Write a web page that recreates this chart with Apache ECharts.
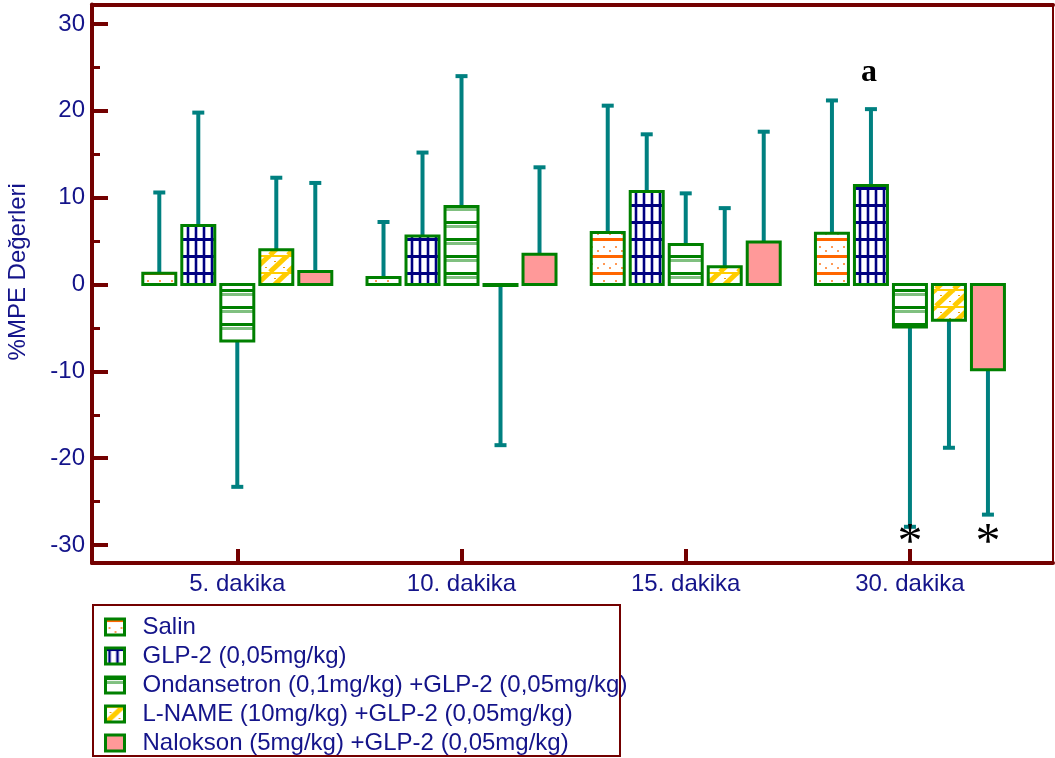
<!DOCTYPE html>
<html>
<head>
<meta charset="utf-8">
<script src="https://cdn.jsdelivr.net/npm/echarts@6/dist/echarts.min.js"></script>
<style>
html,body{margin:0;padding:0;background:#fff;}
#chart{width:1055px;height:758px;}
</style>
</head>
<body>
<div id="chart"></div>
<script>
// ---------- data ----------
const categories = ['5. dakika', '10. dakika', '15. dakika', '30. dakika'];
const seriesNames = [
  'Salin',
  'GLP-2 (0,05mg/kg)',
  'Ondansetron (0,1mg/kg) +GLP-2 (0,05mg/kg)',
  'L-NAME (10mg/kg) +GLP-2 (0,05mg/kg)',
  'Nalokson (5mg/kg) +GLP-2 (0,05mg/kg)'
];
// bar means
const salinMean  = [1.3, 0.8, 6.0, 5.9];
const glpMean    = [6.8, 5.6, 10.7, 11.4];
const ondMean    = [-6.5, 9.0, 4.6, -4.9];
const lnameMean  = [4.0, -0.1, 2.05, -4.1];
const nalMean    = [1.5, 3.5, 4.9, -9.8];
// error bar end values (mean ± SD)
const salinErr   = [10.6, 7.2, 20.6, 21.2];
const glpErr     = [19.8, 15.2, 17.3, 20.2];
const ondErr     = [-23.3, 24.0, 10.5, -27.9];
const lnameErr   = [12.3, -18.5, 8.8, -18.8];
const nalErr     = [11.7, 13.5, 17.6, -26.5];
// significance marks
const salinMarks = ['', '', '', ''];
const glpMarks   = ['', '', '', 'a'];
const ondMarks   = ['', '', '', '*'];
const lnameMarks = ['', '', '', ''];
const nalMarks   = ['', '', '', '*'];
// axis ticks
const yTickLabels = [-30, -20, -10, 0, 10, 20, 30];
const yMinorTicks = [-25, -15, -5, 5, 15, 25];

const means = [salinMean, glpMean, ondMean, lnameMean, nalMean];
const errs = [salinErr, glpErr, ondErr, lnameErr, nalErr];
const marks = [salinMarks, glpMarks, ondMarks, lnameMarks, nalMarks];

// ---------- styles ----------
const MAROON = '#730000';
const NAVY = '#14148a';
const GREEN = '#008000';
const TEAL = '#008080';
const FONT = '"Liberation Sans", Arial, sans-serif';

function makeCanvas(w, h, draw) {
  const c = document.createElement('canvas');
  c.width = w; c.height = h;
  const ctx = c.getContext('2d');
  ctx.fillStyle = '#ffffff';
  ctx.fillRect(0, 0, w, h);
  draw(ctx, w, h);
  return c;
}
const salinPat = makeCanvas(12, 17, (ctx) => {
  ctx.fillStyle = '#ff6600';
  ctx.fillRect(0, 0, 12, 3);
  ctx.fillStyle = '#ff9955';
  ctx.fillRect(3, 8, 2, 2);
  ctx.fillRect(9, 12, 2, 2);
});
const glpPat = makeCanvas(8, 17, (ctx) => {
  ctx.fillStyle = '#b4b4e0';
  ctx.fillRect(2, 0, 4, 17);
  ctx.fillStyle = '#000080';
  ctx.fillRect(3, 0, 2, 17);
  ctx.fillRect(0, 0, 8, 3);
});
const ondPat = makeCanvas(6, 17, (ctx) => {
  ctx.fillStyle = '#008000';
  ctx.fillRect(0, 0, 6, 3);
  ctx.fillStyle = '#80c080';
  ctx.fillRect(0, 4, 6, 3);
});
const lnamePat = makeCanvas(18, 17, (ctx) => {
  ctx.strokeStyle = '#ffcc00';
  ctx.lineWidth = 5;
  for (let k = -1; k <= 1; k++) {
    ctx.beginPath();
    ctx.moveTo(k * 18, 17);
    ctx.lineTo(k * 18 + 18, 0);
    ctx.stroke();
  }
  ctx.fillStyle = '#ffcc00';
  ctx.fillRect(0, 0, 18, 2);
  ctx.fillStyle = '#f0a000';
  ctx.fillRect(4, 6, 2, 1);
  ctx.fillRect(13, 12, 2, 1);
});
const fills = [
  { image: salinPat, repeat: 'repeat' },
  { image: glpPat, repeat: 'repeat' },
  { image: ondPat, repeat: 'repeat' },
  { image: lnamePat, repeat: 'repeat' },
  '#ff9999'
];

const X_MIN = 0.352, X_MAX = 4.638;
const Y_MIN = -32.07, Y_MAX = 32.25;
const BAR_STEP = 39;   // px between bar centers within a group
const BAR_W = 33;      // px inner width (border adds 3)

function makeSeries(si) {
  const data = categories.map((c, i) => [i + 1, means[si][i], errs[si][i]]);
  return {
    type: 'custom',
    name: seriesNames[si],
    xAxisIndex: 0,
    yAxisIndex: 0,
    itemStyle: { color: fills[si], borderColor: GREEN, borderWidth: 3 },
    data: data,
    clip: false,
    renderItem: function (params, api) {
      const g = api.value(0), m = api.value(1), e = api.value(2);
      const p0 = api.coord([g, 0]);
      const pm = api.coord([g, m]);
      const pe = api.coord([g, e]);
      const cx = p0[0] + (si - 2) * BAR_STEP;
      let top = Math.min(p0[1], pm[1]);
      let h = Math.abs(p0[1] - pm[1]);
      if (h < 1) { h = 1; }
      const children = [];
      children.push({
        type: 'line',
        shape: { x1: cx, y1: pm[1], x2: cx, y2: pe[1] },
        style: { stroke: TEAL, lineWidth: 4 }
      });
      children.push({
        type: 'rect',
        shape: { x: cx - BAR_W / 2, y: top, width: BAR_W, height: h },
        style: { fill: fills[si], stroke: GREEN, lineWidth: 3 }
      });
      children.push({
        type: 'rect',
        shape: { x: cx - 6, y: pe[1] - 2, width: 12, height: 4 },
        style: { fill: TEAL }
      });
      const mk = marks[si][params.dataIndex];
      if (mk === 'a') {
        children.push({
          type: 'text',
          style: { text: 'a', x: cx - 2, y: pe[1] - 36, align: 'center', verticalAlign: 'middle',
                   fill: '#000', font: 'bold 32px "Liberation Serif", serif' }
        });
      } else if (mk === '*') {
        const ps = api.coord([g, -29.2]);
        children.push({
          type: 'text',
          style: { text: '*', x: cx, y: ps[1] + 6, align: 'center', verticalAlign: 'middle',
                   fill: '#000', font: '50px "Liberation Serif", serif' }
        });
      }
      return { type: 'group', children: children };
    }
  };
}

const chart = echarts.init(document.getElementById('chart'), null, { renderer: 'canvas' });
chart.setOption({
  animation: false,
  backgroundColor: '#ffffff',
  grid: { left: 92, right: 2, top: 4.5, bottom: 195, containLabel: false, outerBoundsMode: 'none' },
  xAxis: [
    {
      type: 'value', min: X_MIN, max: X_MAX, position: 'bottom',
      axisLine: { show: true, onZero: false, lineStyle: { color: MAROON, width: 4 } },
      axisTick: { show: true, inside: true, length: 14, lineStyle: { color: MAROON, width: 4 }, customValues: [1, 2, 3, 4] },
      axisLabel: { show: true, customValues: [1, 2, 3, 4], formatter: (v) => categories[Math.round(v) - 1],
                   color: NAVY, fontSize: 24, fontFamily: FONT, margin: 9 },
      splitLine: { show: false }
    },
    {
      type: 'value', min: X_MIN, max: X_MAX, position: 'top',
      axisLine: { show: true, onZero: false, lineStyle: { color: MAROON, width: 4 } },
      axisTick: { show: false }, axisLabel: { show: false }, splitLine: { show: false }
    }
  ],
  yAxis: [
    {
      type: 'value', min: Y_MIN, max: Y_MAX, position: 'left',
      axisLine: { show: true, onZero: false, lineStyle: { color: MAROON, width: 4 } },
      axisTick: { show: true, inside: true, length: 16, lineStyle: { color: MAROON, width: 4 }, customValues: yTickLabels },
      axisLabel: { show: true, customValues: yTickLabels, color: NAVY, fontSize: 24, fontFamily: FONT, margin: 7 },
      splitLine: { show: false },
      name: '%MPE Değerleri', nameLocation: 'middle', nameGap: 62,
      nameTextStyle: { color: NAVY, fontSize: 24, fontFamily: FONT, padding: [0, 0, 0, 24] }
    },
    {
      type: 'value', min: Y_MIN, max: Y_MAX, position: 'left',
      axisLine: { show: false },
      axisTick: { show: true, inside: true, length: 8, lineStyle: { color: MAROON, width: 3 }, customValues: yMinorTicks },
      axisLabel: { show: false }, splitLine: { show: false }
    },
    {
      type: 'value', min: Y_MIN, max: Y_MAX, position: 'right',
      axisLine: { show: true, onZero: false, lineStyle: { color: MAROON, width: 2 } },
      axisTick: { show: false }, axisLabel: { show: false }, splitLine: { show: false }
    }
  ],
  legend: {
    orient: 'vertical', left: 93, top: 605,
    padding: [10, 0, 0, 11],
    itemWidth: 19, itemHeight: 16, itemGap: 5,
    icon: 'rect',
    selectedMode: false,
    textStyle: { color: NAVY, fontSize: 24, fontFamily: FONT, lineHeight: 24, padding: [0, 0, 0, 13] },
    data: seriesNames.map((n, i) => ({
      name: n, icon: 'rect',
      itemStyle: { color: fills[i], borderColor: GREEN, borderWidth: 3 }
    }))
  },
  graphic: [
    { type: 'rect', shape: { x: 93, y: 605, width: 527, height: 151 },
      style: { fill: 'none', stroke: MAROON, lineWidth: 2 }, z: 100 }
  ],
  series: [0, 1, 2, 3, 4].map(makeSeries)
});
</script>
</body>
</html>
